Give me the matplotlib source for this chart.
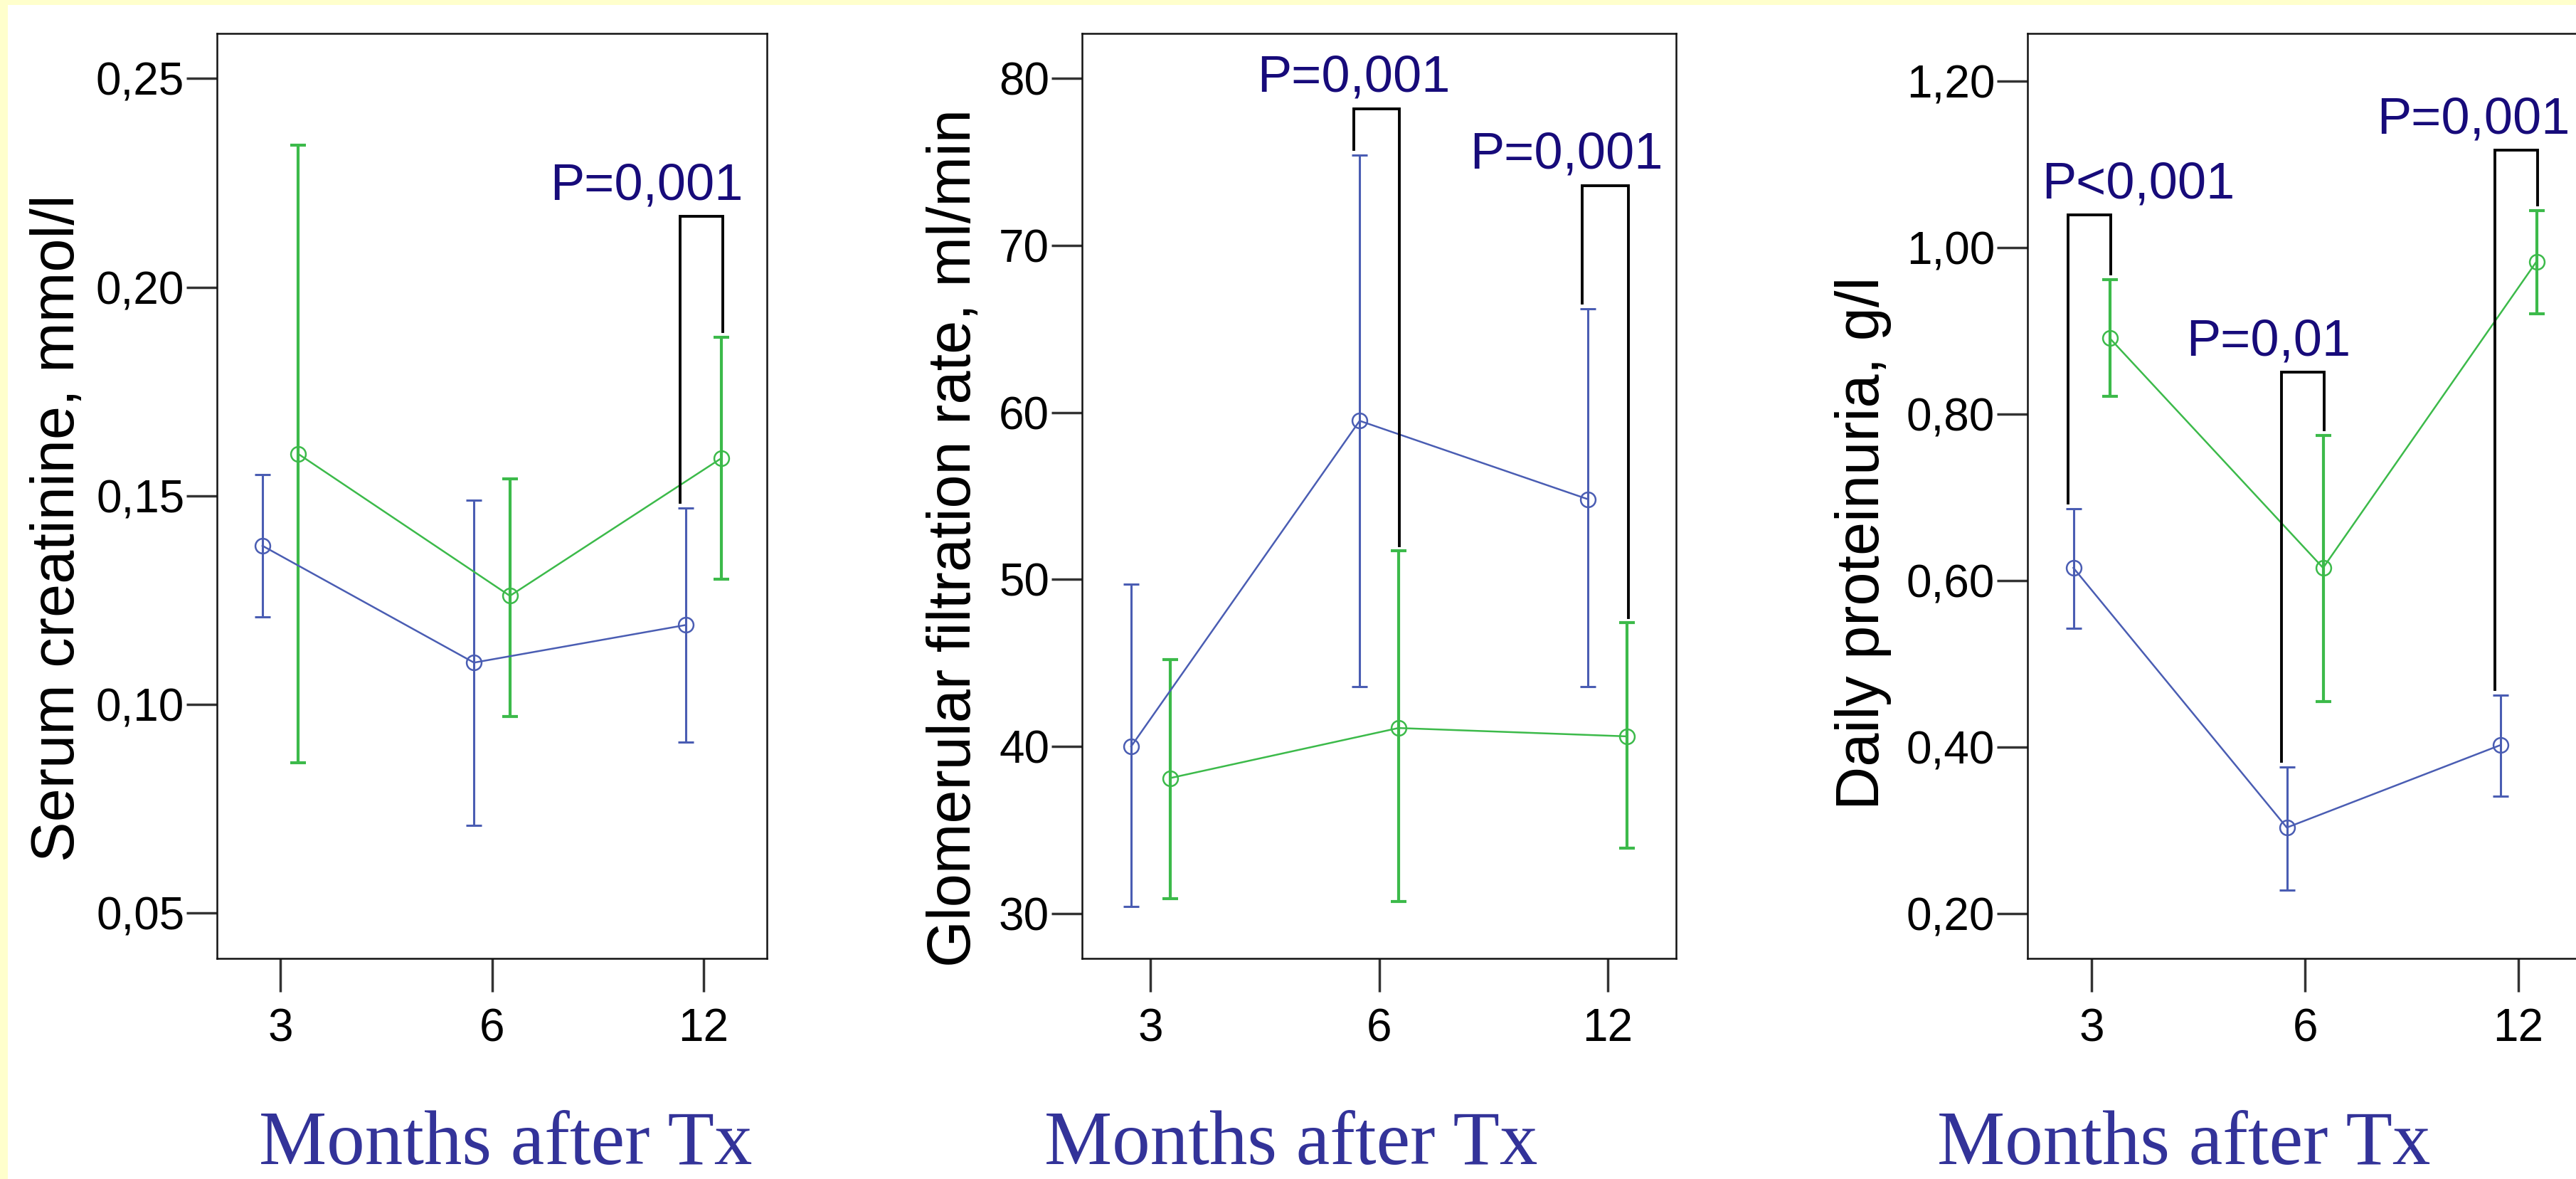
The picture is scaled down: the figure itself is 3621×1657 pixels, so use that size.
import numpy as np
import matplotlib
matplotlib.use("Agg")
import matplotlib.pyplot as plt
from matplotlib.patches import Rectangle

C_BLUE = "#4a5db3"
C_GREEN = "#3cba4a"
C_PTEXT = "#170b7a"
C_XLAB = "#333399"
C_BORDER = "#ffffcc"

months = ["3", "6", "12"]

# serum creatinine, mmol/l
creat_blue = [0.138, 0.110, 0.119]
creat_blue_lo = [0.121, 0.071, 0.091]
creat_blue_hi = [0.155, 0.149, 0.147]
creat_green = [0.160, 0.126, 0.159]
creat_green_lo = [0.086, 0.097, 0.130]
creat_green_hi = [0.234, 0.154, 0.188]
creat_ticks = [0.05, 0.10, 0.15, 0.20, 0.25]
creat_ticklabels = ["0,05", "0,10", "0,15", "0,20", "0,25"]
creat_pvals = [(2, 0.217, "P=0,001")]

# glomerular filtration rate, ml/min
gfr_blue = [40.0, 59.5, 54.8]
gfr_blue_lo = [30.4, 43.6, 43.6]
gfr_blue_hi = [49.7, 75.4, 66.2]
gfr_green = [38.1, 41.1, 40.6]
gfr_green_lo = [30.9, 30.7, 33.9]
gfr_green_hi = [45.2, 51.7, 47.4]
gfr_ticks = [30, 40, 50, 60, 70, 80]
gfr_ticklabels = ["30", "40", "50", "60", "70", "80"]
gfr_pvals = [(1, 78.2, "P=0,001"), (2, 73.6, "P=0,001")]

# daily proteinuria, g/l
prot_blue = [0.615, 0.303, 0.402]
prot_blue_lo = [0.542, 0.228, 0.341]
prot_blue_hi = [0.686, 0.376, 0.462]
prot_green = [0.891, 0.615, 0.983]
prot_green_lo = [0.821, 0.454, 0.920]
prot_green_hi = [0.961, 0.774, 1.044]
prot_ticks = [0.20, 0.40, 0.60, 0.80, 1.00, 1.20]
prot_ticklabels = ["0,20", "0,40", "0,60", "0,80", "1,00", "1,20"]
prot_pvals = [(0, 1.039, "P<0,001"), (1, 0.850, "P=0,01"), (2, 1.117, "P=0,001")]

W, H = 3621, 1657
panels = [
    dict(rect=(305, 47, 773, 1300), ylim=(0.0391, 0.2608),
         blue=(creat_blue, creat_blue_lo, creat_blue_hi),
         green=(creat_green, creat_green_lo, creat_green_hi),
         ticks=creat_ticks, ticklabels=creat_ticklabels, pvals=creat_pvals,
         text_dx=[-0.27],
         ylabel="Serum creatinine, mmol/l", ylabel_xy=(82, 742), xlabel_x=711),
    dict(rect=(1521, 47, 835, 1300), ylim=(27.3, 82.7),
         blue=(gfr_blue, gfr_blue_lo, gfr_blue_hi),
         green=(gfr_green, gfr_green_lo, gfr_green_hi),
         ticks=gfr_ticks, ticklabels=gfr_ticklabels, pvals=gfr_pvals,
         text_dx=[-0.11, -0.18],
         ylabel="Glomerular filtration rate, ml/min", ylabel_xy=(1342, 756),
         xlabel_x=1815),
    dict(rect=(2850, 47, 780, 1300), ylim=(0.1458, 1.257),
         blue=(prot_blue, prot_blue_lo, prot_blue_hi),
         green=(prot_green, prot_green_lo, prot_green_hi),
         ticks=prot_ticks, ticklabels=prot_ticklabels, pvals=prot_pvals,
         text_dx=[0.22, -0.17, -0.21],
         ylabel="Daily proteinuria, g/l", ylabel_xy=(2619, 763), xlabel_x=3070),
]

plt.rcParams["font.family"] = ["Liberation Sans", "DejaVu Sans"]

fig = plt.figure(figsize=(W / 100, H / 100), dpi=100, facecolor=C_BORDER)
fig.add_artist(Rectangle((11 / W, 0), 1, 1 - 7 / H, transform=fig.transFigure,
                         facecolor="white", edgecolor="none", zorder=-1))

x = np.arange(len(months))
off = 0.085

for p in panels:
    l, t, w, h = p["rect"]
    ax = fig.add_axes([l / W, 1 - (t + h) / H, w / W, h / H])
    ax.set_facecolor("white")

    for (mean, lo, hi), col, dx, elw in [(p["blue"], C_BLUE, -off, 2.2),
                                         (p["green"], C_GREEN, off, 3.0)]:
        mean = np.array(mean); lo = np.array(lo); hi = np.array(hi)
        ax.errorbar(x + dx, mean, yerr=[mean - lo, hi - mean], fmt="none",
                    ecolor=col, elinewidth=elw, capsize=8, capthick=elw, zorder=2)
        ax.plot(x + dx, mean, "-o", color=col, lw=1.8, ms=15, mfc="none",
                mew=1.8, mec=col, zorder=3)

    ymin, ymax = p["ylim"]
    gap = 0.006 * (ymax - ymin)
    blue_hi = p["blue"][2]
    green_hi = p["green"][2]
    for (i, top, txt), tdx in zip(p["pvals"], p["text_dx"]):
        xl, xr = i - 0.11, i + 0.09
        ax.plot([xl, xl, xr, xr], [blue_hi[i] + gap, top, top, green_hi[i] + gap],
                color="black", lw=2.8, solid_joinstyle="miter", zorder=4,
                clip_on=False)
        ax.annotate(txt, (i + tdx, top), xytext=(0, 17), textcoords="offset points",
                    ha="center", va="baseline", fontsize=52, color=C_PTEXT)

    ax.set_xlim(-0.3, 2.3)
    ax.set_ylim(ymin, ymax)
    ax.set_xticks(x)
    ax.set_xticklabels(months)
    ax.set_yticks(p["ticks"])
    ax.set_yticklabels(p["ticklabels"])
    ax.tick_params(axis="both", width=2.5, color="#333333",
                   labelsize=46, labelcolor="black")
    ax.tick_params(axis="y", length=31, pad=2)
    ax.tick_params(axis="x", length=34, pad=16)
    for s in ax.spines.values():
        s.set_linewidth(1.8)
        s.set_color("#111111")

    lx, ly = p["ylabel_xy"]
    fig.text(lx / W, 1 - ly / H, p["ylabel"], rotation=90, ha="center",
             va="center", fontsize=61, color="black")
    fig.text(p["xlabel_x"] / W, 1 - 1636 / H, "Months after Tx", ha="center",
             va="baseline", fontsize=77, color=C_XLAB,
             family=["Liberation Serif", "DejaVu Serif"])

fig.savefig("out.png", dpi=100, facecolor=C_BORDER)
